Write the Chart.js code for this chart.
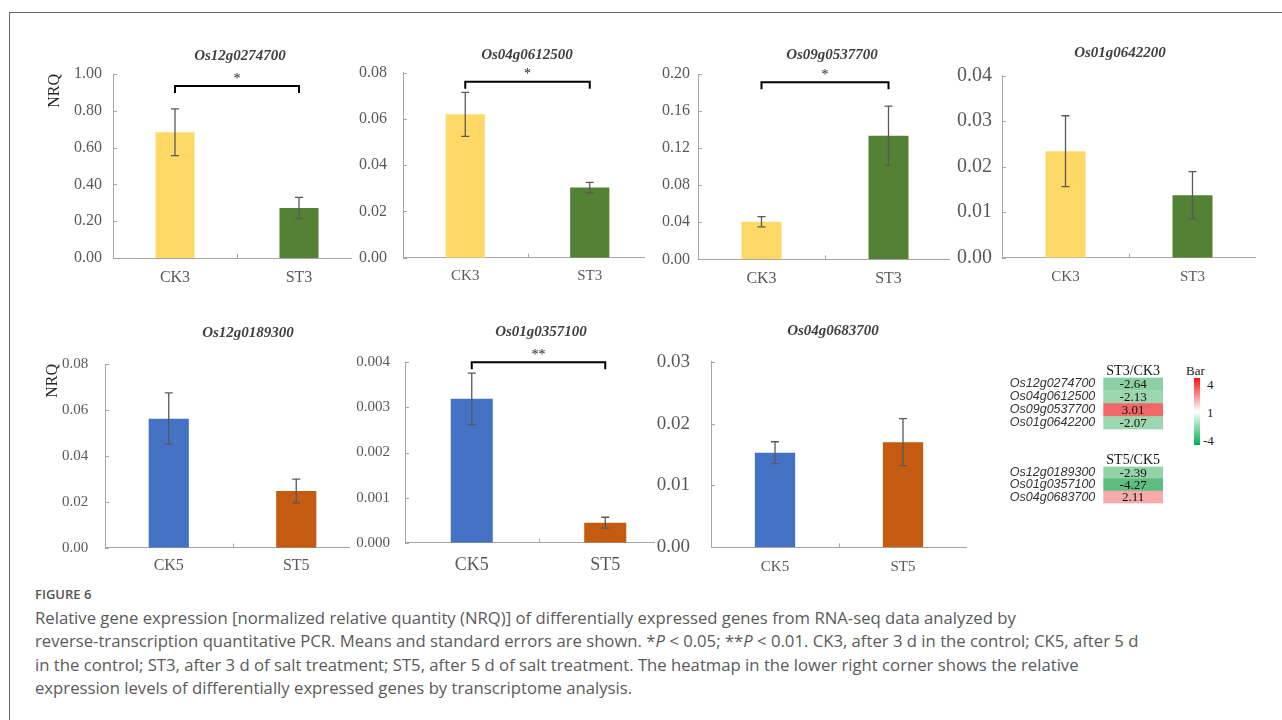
<!DOCTYPE html>
<html>
<head>
<meta charset="utf-8">
<script src="https://cdn.jsdelivr.net/npm/chart.js@4.4.1/dist/chart.umd.min.js"></script>
<style>
  body { margin: 0; width: 1282px; height: 720px; overflow: hidden; position: relative; background: #fff; }
  canvas { position: absolute; background: #fff; }
  #frame { position: absolute; left: 9px; top: 12px; width: 1400px; height: 800px;
           border-left: 1.5px solid #666; border-top: 1.5px solid #666; }
  .t { position: absolute; font-family: 'Liberation Serif', serif; font-size: 13px; color: #222; line-height: 1; }
  #cbar { position: absolute; left: 1194px; top: 378px; width: 6px; height: 67px;
          background: linear-gradient(to bottom, #ff1010, #ffffff 50%, #00b050); }
  #figlabel { position: absolute; left: 35px; top: 586px; font-family: 'Open Sans', sans-serif;
              font-size: 13px; font-weight: 600; color: #555; line-height: 16px; }
  #caption { position: absolute; left: 35px; top: 606px; font-family: 'Open Sans', sans-serif; font-size: 16.7px;
             color: #5a5a5a; line-height: 23.4px; white-space: nowrap; }
</style>
</head>
<body>
<div id="frame"></div>

<div id="cbar"></div>
<div class="t" style="left:1186px;top:364px;">Bar</div>
<div class="t" style="left:1207px;top:378px;">4</div>
<div class="t" style="left:1207px;top:406px;">1</div>
<div class="t" style="left:1203px;top:434px;">-4</div>

<div id="figlabel">FIGURE 6</div>
<div id="caption">Relative gene expression [normalized relative quantity (NRQ)] of differentially expressed genes from RNA-seq data analyzed by<br>reverse-transcription quantitative PCR. Means and standard errors are shown. *<i>P</i> &lt; 0.05; **<i>P</i> &lt; 0.01. CK3, after 3 d in the control; CK5, after 5 d<br>in the control; ST3, after 3 d of salt treatment; ST5, after 5 d of salt treatment. The heatmap in the lower right corner shows the relative<br>expression levels of differentially expressed genes by transcriptome analysis.</div>

<script>
// groups and genes
const day3Groups = ['CK3', 'ST3'];
const day5Groups = ['CK5', 'ST5'];
const day3Genes = ['Os12g0274700', 'Os04g0612500', 'Os09g0537700', 'Os01g0642200'];
const day5Genes = ['Os12g0189300', 'Os01g0357100', 'Os04g0683700'];

// NRQ means and standard errors
const nrq_Os12g0274700 = [0.683, 0.272];
const se_Os12g0274700  = [0.127, 0.058];
const nrq_Os04g0612500 = [0.0620, 0.0304];
const se_Os04g0612500  = [0.0095, 0.0022];
const nrq_Os09g0537700 = [0.0406, 0.1334];
const se_Os09g0537700  = [0.0055, 0.032];
const nrq_Os01g0642200 = [0.0234, 0.0137];
const se_Os01g0642200  = [0.0078, 0.0052];
const nrq_Os12g0189300 = [0.0562, 0.0247];
const se_Os12g0189300  = [0.0112, 0.0052];
const nrq_Os01g0357100 = [0.00319, 0.000444];
const se_Os01g0357100  = [0.00057, 0.00012];
const nrq_Os04g0683700 = [0.0153, 0.0170];
const se_Os04g0683700  = [0.00176, 0.0038];

// significance marks
const day3Sig = ['*', '*', '*', ''];
const day5Sig = ['', '**', ''];

// y axes: max, step, decimals of the tick labels
const yMaxes    = [1.0, 0.08, 0.20, 0.04, 0.08, 0.004, 0.03];
const ySteps    = [0.2, 0.02, 0.04, 0.01, 0.02, 0.001, 0.01];
const yDecimals = [2, 2, 2, 2, 2, 3, 2];

// heatmap fold changes
const day3Ratio = [-2.64, -2.13, 3.01, -2.07];
const day5Ratio = [-2.39, -4.27, 2.11];

// colours
const day3Colors = ['#FFD966', '#548235'];
const day5Colors = ['#4472C4', '#C55A11'];
const AXIS_GRAY = '#a6a6a6';
const SERIF = "'Liberation Serif', 'Times New Roman', serif";

const panelData = [
  { gene: day3Genes[0], groups: day3Groups, mean: nrq_Os12g0274700, se: se_Os12g0274700, sig: day3Sig[0], colors: day3Colors },
  { gene: day3Genes[1], groups: day3Groups, mean: nrq_Os04g0612500, se: se_Os04g0612500, sig: day3Sig[1], colors: day3Colors },
  { gene: day3Genes[2], groups: day3Groups, mean: nrq_Os09g0537700, se: se_Os09g0537700, sig: day3Sig[2], colors: day3Colors },
  { gene: day3Genes[3], groups: day3Groups, mean: nrq_Os01g0642200, se: se_Os01g0642200, sig: day3Sig[3], colors: day3Colors },
  { gene: day5Genes[0], groups: day5Groups, mean: nrq_Os12g0189300, se: se_Os12g0189300, sig: day5Sig[0], colors: day5Colors },
  { gene: day5Genes[1], groups: day5Groups, mean: nrq_Os01g0357100, se: se_Os01g0357100, sig: day5Sig[1], colors: day5Colors },
  { gene: day5Genes[2], groups: day5Groups, mean: nrq_Os04g0683700, se: se_Os04g0683700, sig: day5Sig[2], colors: day5Colors }
];

// page layout of every panel: plot area [left, top, right, bottom], title centre, fonts
const panelLayout = [
  { canvasLeft: 45,  area: [113, 74, 361, 258],     title: [240, 56],    tickSize: 16, tickPad: 11, catSize: 16, catPad: 10,  bracketDy: 12, nrq: true },
  { canvasLeft: 352, area: [403, 72.7, 652, 257.7], title: [527, 55],    tickSize: 16, tickPad: 16, catSize: 15, catPad: 9.3, bracketDy: 9 },
  { canvasLeft: 645, area: [698, 74, 952, 259.3],   title: [832, 55],    tickSize: 16, tickPad: 8,  catSize: 16, catPad: 9.4, bracketDy: 8.3 },
  { canvasLeft: 950, area: [1002, 75.7, 1256, 257.7], title: [1120, 52.7], tickSize: 20, tickPad: 10, catSize: 15, catPad: 10 },
  { canvasLeft: 43,  area: [105, 364, 360, 547.7],  title: [248, 332.7], tickSize: 15, tickPad: 16.7, catSize: 16, catPad: 8.7, nrq: true },
  { canvasLeft: 350, area: [405, 362.3, 672, 542.7], title: [541, 331.7], tickSize: 15, tickPad: 15, catSize: 18, catPad: 11.5, bracketDy: 0 },
  { canvasLeft: 655, area: [711, 361.7, 967, 547.3], title: [833, 331],   tickSize: 19, tickPad: 21, catSize: 15, catPad: 10.4 }
];

function addCanvas(left, top, w, h) {
  const c = document.createElement('canvas');
  c.width = w; c.height = h;
  c.style.left = left + 'px'; c.style.top = top + 'px';
  c.style.width = w + 'px'; c.style.height = h + 'px';
  document.body.appendChild(c);
  return c;
}

// error bars, significance bracket, inside ticks and gene title
const panelDeco = {
  id: 'panelDeco',
  afterDraw(chart, args, o) {
    const { ctx, chartArea: a, scales: { x, y } } = chart;
    const ds = chart.data.datasets[0];
    const meta = chart.getDatasetMeta(0);
    ctx.save();

    ctx.strokeStyle = AXIS_GRAY;
    ctx.lineWidth = 1;
    ctx.beginPath();
    y.ticks.forEach(t => {
      const py = Math.round(y.getPixelForValue(t.value)) + 0.5;
      ctx.moveTo(a.left, py); ctx.lineTo(a.left + 4, py);
    });
    const mx = Math.round(x.getPixelForValue(0.5)) + 0.5;
    ctx.moveTo(mx, a.bottom); ctx.lineTo(mx, a.bottom - 4);
    ctx.stroke();

    ctx.strokeStyle = '#595959';
    ctx.lineWidth = 1.3;
    meta.data.forEach((bar, i) => {
      const top = y.getPixelForValue(ds.data[i] + ds.errors[i]);
      const bot = y.getPixelForValue(ds.data[i] - ds.errors[i]);
      ctx.beginPath();
      ctx.moveTo(bar.x, top); ctx.lineTo(bar.x, bot);
      ctx.moveTo(bar.x - 4, top); ctx.lineTo(bar.x + 4, top);
      ctx.moveTo(bar.x - 4, bot); ctx.lineTo(bar.x + 4, bot);
      ctx.stroke();
    });

    if (o.sig) {
      const xl = meta.data[0].x, xr = meta.data[1].x, yb = a.top + o.bracketDy;
      ctx.strokeStyle = '#000';
      ctx.lineWidth = 2;
      ctx.beginPath();
      ctx.moveTo(xl, yb + 7); ctx.lineTo(xl, yb); ctx.lineTo(xr, yb); ctx.lineTo(xr, yb + 7);
      ctx.stroke();
      ctx.fillStyle = '#222';
      ctx.font = '14px ' + SERIF;
      ctx.textAlign = 'center';
      ctx.textBaseline = 'middle';
      ctx.fillText(o.sig, (xl + xr) / 2, yb - 7);
    }

    ctx.fillStyle = '#404040';
    ctx.font = 'italic bold 15px ' + SERIF;
    ctx.textAlign = 'center';
    ctx.textBaseline = 'middle';
    ctx.fillText(o.title, o.titleX, o.titleY);
    ctx.restore();
  }
};

panelData.forEach((p, k) => {
  const L = panelLayout[k];
  const [x0, y0, x1, y1] = L.area;
  const cl = L.canvasLeft, ct = Math.round(y0 - 44);
  const cw = Math.round(x1) - cl, ch = Math.round(y1 + 36) - ct;
  const canvas = addCanvas(cl, ct, cw, ch);
  const dec = yDecimals[k];

  new Chart(canvas, {
    type: 'bar',
    data: {
      labels: p.groups,
      datasets: [{
        data: p.mean,
        errors: p.se,
        backgroundColor: p.colors,
        borderWidth: 0,
        categoryPercentage: 1,
        barPercentage: 0.315
      }]
    },
    options: {
      responsive: false,
      animation: false,
      layout: { padding: { top: y0 - ct, left: 0, right: 0, bottom: 0 } },
      scales: {
        x: {
          grid: { display: false, drawTicks: false },
          border: { display: true, color: AXIS_GRAY, width: 1 },
          ticks: { color: '#595959', font: { family: SERIF, size: L.catSize }, padding: L.catPad, maxRotation: 0, autoSkip: false },
          afterFit: s => { s.height = ct + ch - y1; }
        },
        y: {
          min: 0,
          max: yMaxes[k],
          grid: { display: false, drawTicks: false },
          border: { display: true, color: AXIS_GRAY, width: 1 },
          ticks: {
            stepSize: ySteps[k],
            color: '#595959',
            font: { family: SERIF, size: L.tickSize },
            padding: L.tickPad,
            callback: v => Number(v).toFixed(dec)
          },
          title: {
            display: !!L.nrq, text: 'NRQ', align: 'end', padding: 0,
            color: '#262626', font: { family: SERIF, size: 16 }
          },
          afterFit: s => { s.width = x0 - cl; }
        }
      },
      plugins: {
        legend: { display: false },
        tooltip: { enabled: false },
        panelDeco: {
          title: p.gene, titleX: L.title[0] - cl, titleY: L.title[1] - ct,
          sig: p.sig, bracketDy: L.bracketDy || 0
        }
      }
    },
    plugins: [panelDeco]
  });
});

// heatmap: white at 1, red above, green below
function heatColor(v) {
  const end = v < 1 ? [95, 190, 127] : [232, 28, 28];
  const t = Math.min(v < 1 ? (1 - v) / 5 : (v - 1) / 3, 1);
  const c = end.map(e => Math.round(255 + (e - 255) * t));
  return `rgb(${c[0]},${c[1]},${c[2]})`;
}

const heatText = {
  id: 'heatText',
  afterDraw(chart, args, o) {
    const { ctx, chartArea: a } = chart;
    const meta = chart.getDatasetMeta(0);
    ctx.save();
    ctx.fillStyle = '#111';
    ctx.textAlign = 'center';
    ctx.textBaseline = 'middle';
    ctx.font = '13px ' + SERIF;
    meta.data.forEach((el, i) => {
      ctx.fillText(o.values[i].toFixed(2), (el.x + el.base) / 2, el.y + 0.5);
    });
    ctx.font = '14px ' + SERIF;
    ctx.fillText(o.header, (a.left + a.right) / 2, a.top - 6.5);
    ctx.restore();
  }
};

const heatLayout = [
  { left: 1005, top: 362, cellLeft: 1103.3, cellRight: 1163, bottom: 437.3 },
  { left: 1005, top: 451, cellLeft: 1103.3, cellRight: 1163, bottom: 511 }
];

function makeHeatmap(genes, ratios, header, L) {
  const w = Math.round(L.cellRight - L.left);
  const h = Math.round(L.bottom + 8 - L.top);
  const canvas = addCanvas(L.left, L.top, w, h);
  new Chart(canvas, {
    type: 'bar',
    data: {
      labels: genes,
      datasets: [{
        data: ratios.map(() => [0, 1]),
        backgroundColor: ratios.map(heatColor),
        borderWidth: 0,
        categoryPercentage: 1,
        barPercentage: 1
      }]
    },
    options: {
      indexAxis: 'y',
      responsive: false,
      animation: false,
      layout: { padding: { top: 14, bottom: h - (L.bottom - L.top), left: 0, right: 0 } },
      scales: {
        x: { display: false, min: 0, max: 1 },
        y: {
          grid: { display: false, drawTicks: false },
          border: { display: false },
          ticks: { color: '#333', padding: 8, autoSkip: false, font: { family: "'Liberation Sans', Arial, sans-serif", style: 'italic', size: 12.5 } },
          afterFit: s => { s.width = L.cellLeft - L.left; }
        }
      },
      plugins: {
        legend: { display: false },
        tooltip: { enabled: false },
        heatText: { values: ratios, header }
      }
    },
    plugins: [heatText]
  });
}

makeHeatmap(day3Genes, day3Ratio, 'ST3/CK3', heatLayout[0]);
makeHeatmap(day5Genes, day5Ratio, 'ST5/CK5', heatLayout[1]);
</script>
</body>
</html>
